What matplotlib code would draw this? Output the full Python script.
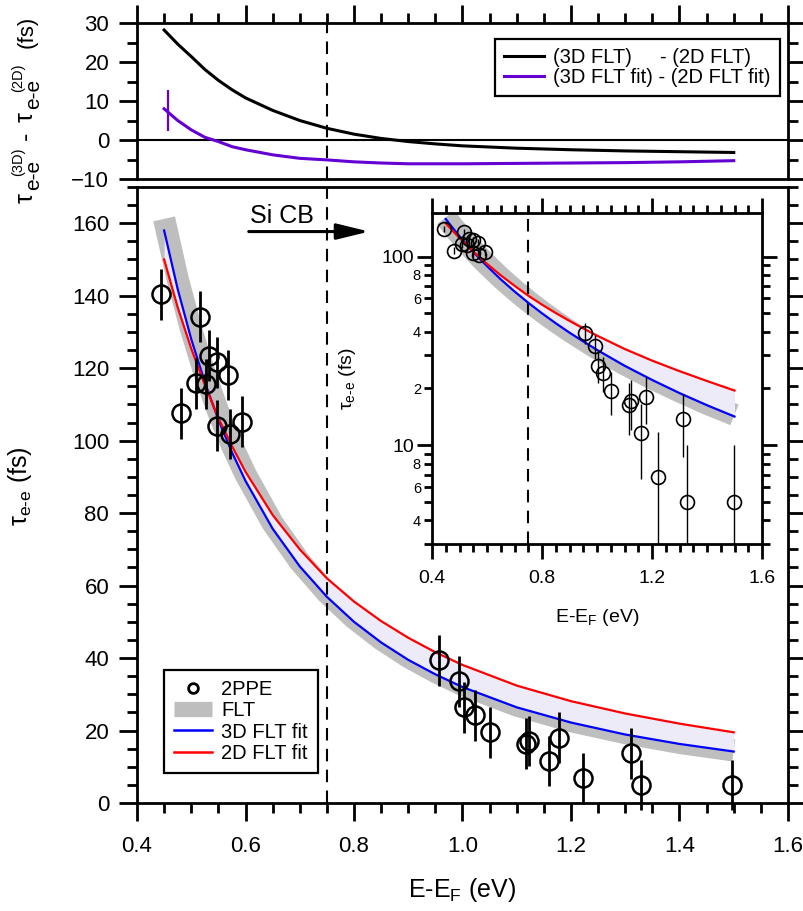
import numpy as np
import matplotlib
matplotlib.use("Agg")
import matplotlib.pyplot as plt
from matplotlib.ticker import MultipleLocator, FixedLocator, FuncFormatter, FormatStrFormatter
from matplotlib.lines import Line2D

plt.rcParams['font.family'] = ['Liberation Sans', 'DejaVu Sans']
plt.rcParams['mathtext.fontset'] = 'custom'
plt.rcParams['mathtext.rm'] = 'Liberation Sans'
plt.rcParams['mathtext.it'] = 'Liberation Sans'
plt.rcParams['mathtext.bf'] = 'Liberation Sans:bold'

# ---- measured 2PPE lifetimes ----
E_2ppe = [0.445, 0.481, 0.509, 0.516, 0.528, 0.533, 0.548, 0.548, 0.568, 0.571, 0.594,
          0.957, 0.994, 1.002, 1.023, 1.051, 1.117, 1.123, 1.160, 1.178, 1.223, 1.311, 1.329, 1.497]
tau_2ppe = [140.4, 107.5, 115.8, 134.2, 115.6, 123.4, 121.6, 104.1, 118.1, 101.8, 105.2,
            39.4, 33.6, 26.4, 24.2, 19.5, 16.4, 17.1, 11.6, 18.0, 6.8, 13.7, 5.0, 5.0]
tau_err = [7.0] * len(E_2ppe)
tau_err_inset = [5.0] * len(E_2ppe)

# ---- model curves ----
E_model = [0.45, 0.475, 0.5, 0.525, 0.55, 0.575, 0.6, 0.65, 0.7, 0.75, 0.8, 0.85, 0.9, 0.95,
           1.0, 1.1, 1.2, 1.3, 1.4, 1.5]
tau_flt = [161.2, 144.6, 130.6, 118.4, 107.9, 98.7, 90.7, 77.2, 66.6, 58.0, 51.0, 45.2, 40.3, 36.2,
           32.6, 26.9, 22.6, 19.3, 16.6, 14.5]
tau_3d_fit = [158.0, 141.8, 128.0, 116.1, 105.8, 96.8, 88.9, 75.7, 65.3, 56.9, 50.0, 44.3, 39.5, 35.5,
              32.0, 26.4, 22.2, 18.9, 16.3, 14.2]
tau_2d_fit = [150.0, 136.8, 125.4, 115.4, 106.2, 98.5, 91.4, 79.5, 70.0, 62.0, 55.6, 50.2, 45.6, 41.6,
              38.1, 32.4, 28.1, 24.7, 21.9, 19.5]
diff_flt = [28.2, 24.6, 21.4, 18.1, 15.3, 12.9, 10.8, 7.6, 5.0, 3.0, 1.5, 0.4, -0.4, -1.0,
            -1.5, -2.1, -2.5, -2.8, -3.0, -3.2]
diff_fit = np.array(tau_3d_fit) - np.array(tau_2d_fit)
diff_fit_err_E = [0.457]
diff_fit_err_val = [7.6]
diff_fit_err = [5.2]

E_si_cb = 0.75

C_FLT = '#bebebe'
C_FILL = '#eeebf9'
C_3D = '#0000ff'
C_2D = '#ff0000'
C_DIFF = '#6400d2'

fig = plt.figure(figsize=(8.04, 9.11), dpi=100)
W, H = 804.0, 911.0
ax_top = fig.add_axes([137 / W, 1 - 179 / H, 651 / W, 156 / H])
ax = fig.add_axes([137 / W, 1 - 803 / H, 651 / W, 616 / H])
ax_in = fig.add_axes([432 / W, 1 - 544 / H, 330 / W, 331 / H])

SPW = 2.0
for a in (ax_top, ax, ax_in):
    for s in a.spines.values():
        s.set_linewidth(SPW)


def vtext(x_px, y_px, s, size):
    """Rotated label piece: baseline at x_px, text starting at y_px and running upward."""
    fig.text(x_px / W, 1 - y_px / H, s, rotation=90, rotation_mode='anchor',
             ha='left', va='baseline', fontsize=size)


# ---------------- top panel: differences ----------------
ax_top.plot(E_model, diff_flt, color='black', lw=2.2, label='(3D FLT)     - (2D FLT)', zorder=3)
ax_top.plot(E_model, diff_fit, color=C_DIFF, lw=2.2, label='(3D FLT fit) - (2D FLT fit)', zorder=3)
ax_top.errorbar(diff_fit_err_E, diff_fit_err_val, yerr=diff_fit_err, fmt='none',
                ecolor=C_DIFF, elinewidth=1.6, capsize=0, zorder=3)
ax_top.axhline(0, color='black', lw=1.5, zorder=2)
ax_top.axvline(E_si_cb, color='black', lw=1.5, ls=(0, (6, 4)), zorder=2)
ax_top.set_xlim(0.4, 1.6)
ax_top.set_ylim(-10, 30)
ax_top.xaxis.set_major_locator(MultipleLocator(0.2))
ax_top.xaxis.set_minor_locator(MultipleLocator(0.05))
ax_top.yaxis.set_major_locator(MultipleLocator(10))
ax_top.yaxis.set_minor_locator(MultipleLocator(5))
ax_top.tick_params(axis='x', which='both', bottom=False, top=True, labelbottom=False,
                   labeltop=False, direction='out', width=SPW)
ax_top.tick_params(axis='y', which='both', left=True, right=True, direction='out', width=SPW,
                   labelsize=16, pad=7)
ax_top.tick_params(which='major', length=13)
ax_top.tick_params(which='minor', length=7)

# y label of the difference panel, assembled piece by piece
vtext(33, 203, 'τ', 18)
vtext(39, 190, 'e-e', 15)
vtext(22, 176, '(3D)', 10.5)
vtext(33, 140, '-', 18)
vtext(33, 122, 'τ', 18)
vtext(39, 109, 'e-e', 15)
vtext(22, 92, '(2D)', 10.5)
vtext(33, 48, '(fs)', 16)

leg_top = ax_top.legend(loc='upper right', bbox_to_anchor=(0.9877, 0.897), borderaxespad=0,
                        fontsize=14.5, frameon=True, fancybox=False, framealpha=1,
                        edgecolor='black', handlelength=2.0, handletextpad=0.45,
                        labelspacing=0.05, borderpad=0.45)
leg_top.get_frame().set_linewidth(1.6)

# ---------------- main panel ----------------
ax.plot(E_model, tau_flt, color=C_FLT, lw=16, solid_capstyle='butt', zorder=1)
ax.fill_between(E_model, tau_3d_fit, tau_2d_fit, color=C_FILL, lw=0, zorder=2)
ax.plot(E_model, tau_3d_fit, color=C_3D, lw=1.6, zorder=3)
ax.plot(E_model, tau_2d_fit, color=C_2D, lw=1.6, zorder=3)
ax.errorbar(E_2ppe, tau_2ppe, yerr=tau_err, fmt='o', ms=13, mfc='none', mec='black', mew=1.8,
            ecolor='black', elinewidth=2, capsize=0, zorder=4, clip_on=False)
ax.axvline(E_si_cb, color='black', lw=1.5, ls=(0, (6, 4)), zorder=2)
ax.set_xlim(0.4, 1.6)
ax.set_ylim(0, 170)
ax.xaxis.set_major_locator(MultipleLocator(0.2))
ax.xaxis.set_minor_locator(MultipleLocator(0.05))
ax.xaxis.set_major_formatter(FormatStrFormatter('%.1f'))
ax.yaxis.set_major_locator(MultipleLocator(20))
ax.yaxis.set_minor_locator(MultipleLocator(5))
ax.tick_params(axis='x', which='both', bottom=True, top=False, direction='out', width=SPW,
               labelsize=16, pad=11)
ax.tick_params(axis='y', which='both', left=True, right=True, direction='out', width=SPW,
               labelsize=16, pad=7)
ax.tick_params(which='major', length=13)
ax.tick_params(which='minor', length=7)
ax.set_xlabel('E-E$_{\\text{F}}$ (eV)', fontsize=18)
ax.xaxis.set_label_coords(0.5, -0.118)
ax.set_ylabel('τ$_{\\text{e-e}}$ (fs)', fontsize=18)
ax.yaxis.set_label_coords(-0.158, 0.515)

ax.annotate('', xy=(0.828, 157.7), xytext=(0.606, 157.7),
            arrowprops=dict(arrowstyle='-|>,head_length=0.9,head_width=0.22', lw=2.2,
                            color='black', shrinkA=0, shrinkB=0, mutation_scale=22), zorder=5)
ax.text(0.608, 162.0, 'Si CB', fontsize=18, ha='left', va='center', zorder=5)

handles = [
    Line2D([], [], ls='none', marker='o', ms=7, mfc='none', mec='black', mew=2),
    Line2D([], [], color=C_FLT, lw=11, solid_capstyle='butt'),
    Line2D([], [], color=C_3D, lw=1.8),
    Line2D([], [], color=C_2D, lw=1.8),
]
leg = ax.legend(handles, ['2PPE', 'FLT', '3D FLT fit', '2D FLT fit'], loc='lower left',
                bbox_to_anchor=(0.0415, 0.0487), borderaxespad=0, fontsize=14.5, frameon=True,
                fancybox=False, framealpha=1, edgecolor='black', handlelength=1.9,
                handletextpad=0.45, labelspacing=0.12, borderpad=0.5)
leg.get_frame().set_linewidth(1.6)

# ---------------- inset: log scale ----------------
ax_in.set_facecolor('white')
ax_in.plot(E_model, tau_flt, color=C_FLT, lw=16, solid_capstyle='butt', zorder=1)
ax_in.fill_between(E_model, tau_3d_fit, tau_2d_fit, color=C_FILL, lw=0, zorder=2)
ax_in.plot(E_model, tau_3d_fit, color=C_3D, lw=1.6, zorder=3)
ax_in.plot(E_model, tau_2d_fit, color=C_2D, lw=1.6, zorder=3)
ax_in.errorbar(E_2ppe, tau_2ppe, yerr=tau_err_inset, fmt='o', ms=10, mfc='none', mec='black',
               mew=1.2, ecolor='black', elinewidth=1.0, capsize=0, zorder=4)
ax_in.axvline(E_si_cb, color='black', lw=1.5, ls=(0, (6, 4)), zorder=2)
ax_in.set_yscale('log')
ax_in.set_xlim(0.4, 1.6)
ax_in.set_ylim(3, 170)
ax_in.xaxis.set_major_locator(FixedLocator([0.4, 0.8, 1.2, 1.6]))
ax_in.xaxis.set_minor_locator(MultipleLocator(0.05))
ax_in.xaxis.set_major_formatter(FormatStrFormatter('%.1f'))
ax_in.yaxis.set_major_locator(FixedLocator([10, 100]))
ax_in.yaxis.set_major_formatter(FuncFormatter(lambda v, p: '%d' % round(v)))
minor_y = [m * d for d in (1, 10, 100) for m in range(2, 10)]
ax_in.yaxis.set_minor_locator(FixedLocator(minor_y))


def _minor_label(v, pos):
    mant = int(round(v / 10 ** np.floor(np.log10(v) + 1e-9)))
    return str(mant) if mant in (2, 4, 6, 8) else ''


ax_in.yaxis.set_minor_formatter(FuncFormatter(_minor_label))
ax_in.tick_params(axis='both', which='both', direction='out', width=SPW, top=True, right=True)
ax_in.tick_params(which='major', length=11)
ax_in.tick_params(which='minor', length=6)
ax_in.tick_params(axis='x', which='major', labelsize=14, pad=8)
ax_in.tick_params(axis='y', which='major', labelsize=14, pad=2)
ax_in.tick_params(axis='y', which='minor', labelsize=10.5, pad=2)
ax_in.set_xlabel('E-E$_{\\text{F}}$ (eV)', fontsize=14)
ax_in.xaxis.set_label_coords(0.5, -0.19)
ax_in.set_ylabel('τ$_{\\text{e-e}}$ (fs)', fontsize=14)
ax_in.yaxis.set_label_coords(-0.225, 0.5)

fig.savefig('out.png', dpi=100)
